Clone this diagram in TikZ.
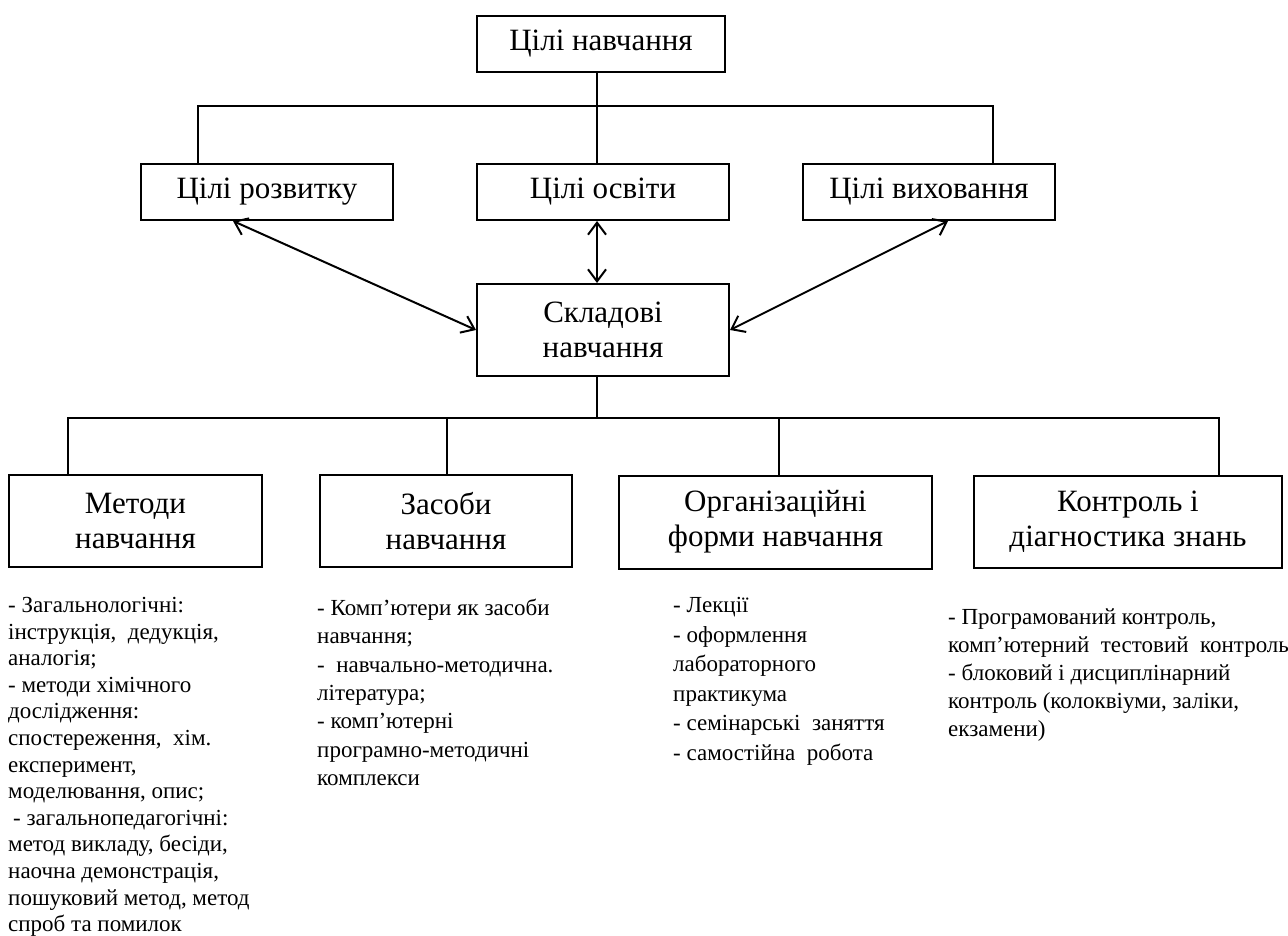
\documentclass[tikz,border=0pt]{standalone}
\usepackage{fontspec}
\setmainfont{Liberation Serif}
\usetikzlibrary{arrows.meta}
\begin{document}
\begin{tikzpicture}[x=1pt,y=-1pt,
  boxnode/.style={draw, line width=2pt, inner sep=0pt, align=center, font=\fontsize{31}{35}\selectfont},
  listnode/.style={inner sep=0pt, anchor=north west, align=left},
  conn/.style={line width=2pt},
  biarrow/.style={line width=2pt, {Straight Barb[length=12pt,width=18pt]}-{Straight Barb[length=12pt,width=18pt]}}
]
\useasboundingbox (0,0) rectangle (1288,936);
\fill[white] (0,0) rectangle (1288,936);

% boxes
\node[boxnode, minimum width=248pt, minimum height=56pt] (top) at (601,44) {Цілі навчання};
\node[boxnode, minimum width=252pt, minimum height=56pt] (rozv) at (267,192) {Цілі розвитку};
\node[boxnode, minimum width=252pt, minimum height=56pt] (osv) at (603,192) {Цілі освіти};
\node[boxnode, minimum width=252pt, minimum height=56pt] (vykh) at (929,192) {Цілі виховання};
\node[boxnode, minimum width=252pt, minimum height=92pt] (sklad) at (603,330) {Складові\\навчання};
\node[boxnode, minimum width=253pt, minimum height=92pt] (met) at (135.5,521) {Методи\\навчання};
\node[boxnode, minimum width=252pt, minimum height=92pt] (zas) at (446,521) {Засоби\\навчання};
\node[boxnode, minimum width=313pt, minimum height=93pt] (org) at (775.5,522) {Організаційні\\форми навчання};
\node[boxnode, minimum width=308pt, minimum height=92pt] (kon) at (1128,521.5) {Контроль і\\діагностика знань};

% connector coordinates
\coordinate (c1) at (597,106);
\coordinate (cl) at (198,106);
\coordinate (cr) at (993,106);
\coordinate (d) at (597,418);
\coordinate (d1) at (68,418);
\coordinate (d2) at (447,418);
\coordinate (d3) at (779,418);
\coordinate (d4) at (1219,418);
\coordinate (a1) at (233,220);
\coordinate (a2) at (948,220);

% upper tree
\draw[conn] (top.south -| c1) -- (osv.north -| c1);
\draw[conn] (rozv.north -| cl) |- (cr) -- (vykh.north -| cr);

% lower tree
\draw[conn] (sklad.south -| d) -- (d);
\draw[conn] (met.north -| d1) |- (d4) -- (kon.north -| d4);
\draw[conn] (d2) -- (zas.north -| d2);
\draw[conn] (d3) -- (org.north -| d3);

% arrows
\draw[biarrow] (rozv.south -| a1) -- (sklad.west);
\draw[biarrow] (osv.south -| c1) -- (sklad.north -| c1);
\draw[biarrow] (vykh.south -| a2) -- (sklad.east);

% lists
\node[listnode, font=\fontsize{23}{26.6}\selectfont] (l1) at (8,597) {%
- Загальнологічні:\\
інструкція,\ \ дедукція,\\
аналогія;\\
- методи хімічного\\
дослідження:\\
спостереження,\ \ хім.\\
експеримент,\\
моделювання,\ опис;\\
\hspace{5pt}- загальнопедагогічні:\\
метод викладу, бесіди,\\
наочна демонстрація,\\
пошуковий метод, метод\\
спроб та помилок};

\node[listnode, font=\fontsize{23}{28.3}\selectfont] (l2) at (317,599) {%
- Комп’ютери як засоби\\
навчання;\\
-\ \ навчально-методична.\\
література;\\
- комп’ютерні\\
програмно-методичні\\
комплекси};

\node[listnode, font=\fontsize{23}{29.6}\selectfont] (l3) at (673,597) {%
- Лекції\\
- оформлення\\
лабораторного\\
практикума\\
- семінарські\ \ заняття\\
- самостійна\ \ робота};

\node[listnode, font=\fontsize{23}{28}\selectfont] (l4) at (948,609) {%
- Програмований контроль,\\
комп’ютерний\ \ тестовий\ \ контроль\\
- блоковий і дисциплінарний\\
контроль (колоквіуми, заліки,\\
екзамени)};
\end{tikzpicture}
\end{document}
